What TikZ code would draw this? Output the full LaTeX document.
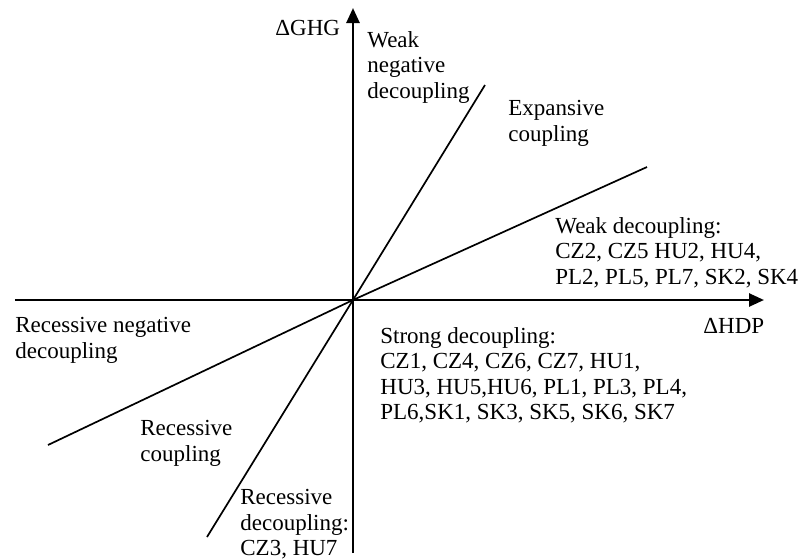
\documentclass[tikz,border=0pt]{standalone}
\usepackage{fontspec}
\setmainfont{Liberation Serif}
\usetikzlibrary{arrows.meta}

\begin{document}
\begin{tikzpicture}[x=0.5pt,y=0.5pt,
	every node/.style={black,inner sep=0pt,anchor=north west,align=left,font=\fontsize{11.5pt}{12.7pt}\selectfont},
	axis/.style={line width=1.3pt,-{Triangle[width=6.5pt,length=7.5pt]}},
	border/.style={line width=0.85pt}]
	\useasboundingbox (-353,-259) rectangle (446,300);

	\coordinate (O) at (0,0);
	\coordinate (X1) at (-338,0);
	\coordinate (X2) at (411,0);
	\coordinate (Y1) at (0,-253);
	\coordinate (Y2) at (0,292);
	\coordinate (A1) at (-305,-145);
	\coordinate (A2) at (294,133);
	\coordinate (B1) at (-146,-237);
	\coordinate (B2) at (132,215);

	\draw[axis] (X1) -- (X2);
	\draw[axis] (Y1) -- (Y2);
	\draw[border] (A1) -- (O) -- (A2);
	\draw[border] (B1) -- (O) -- (B2);

	\node (GHG) at (-78,280) {ΔGHG};
	\node (HDP) at (350,-18) {ΔHDP};

	\node (WND) at (14,269) {Weak\\negative\\decoupling};
	\node (EC) at (155,200) {Expansive\\coupling};
	\node (WD) at (202,83) {Weak decoupling:\\CZ2, CZ5 HU2, HU4,\\PL2, PL5, PL7, SK2, SK4};
	\node (SD) at (27,-27) {Strong decoupling:\\CZ1, CZ4, CZ6, CZ7, HU1,\\HU3, HU5,HU6, PL1, PL3, PL4,\\PL6,SK1, SK3, SK5, SK6, SK7};
	\node (RND) at (-338,-17) {Recessive negative\\decoupling};
	\node (RC) at (-213,-120) {Recessive\\coupling};
	\node (RD) at (-113,-189) {Recessive\\decoupling:\\CZ3, HU7};
\end{tikzpicture}
\end{document}
